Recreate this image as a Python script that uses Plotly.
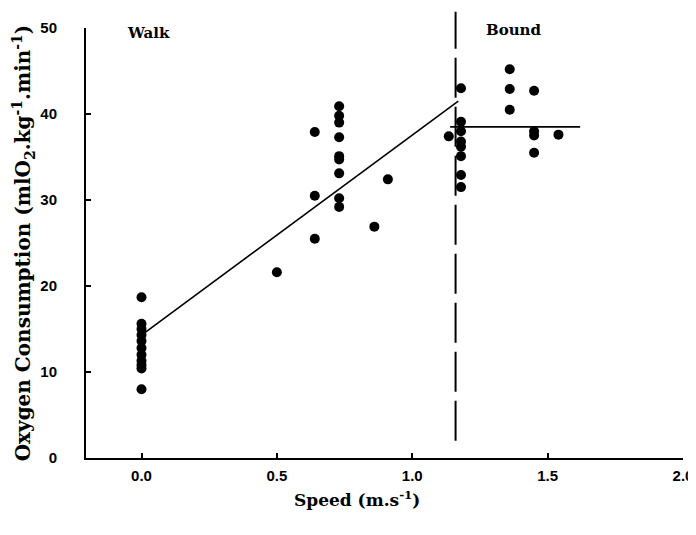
import plotly.graph_objects as go

# Walk: speed (m/s) and oxygen consumption (ml O2 / kg / min)
walk_speed = [0.0, 0.0, 0.0, 0.0, 0.0, 0.0, 0.0, 0.0, 0.0, 0.0, 0.0,
              0.50, 0.64, 0.64, 0.64,
              0.73, 0.73, 0.73, 0.73, 0.73, 0.73, 0.73, 0.73, 0.73,
              0.86, 0.91]
walk_vo2 = [18.7, 15.6, 15.0, 14.3, 13.6, 12.8, 12.0, 11.3, 10.8, 10.4, 8.0,
            21.6, 25.5, 30.5, 37.9,
            40.9, 39.8, 39.0, 37.3, 35.1, 34.7, 33.1, 30.2, 29.2,
            26.9, 32.4]

# Bound
bound_speed = [1.135, 1.18, 1.18, 1.18, 1.18, 1.18, 1.18, 1.18, 1.18,
               1.36, 1.36, 1.36, 1.45, 1.45, 1.45, 1.45, 1.54]
bound_vo2 = [37.4, 43.0, 39.1, 38.0, 36.8, 36.2, 35.1, 32.9, 31.5,
             45.2, 42.9, 40.5, 42.7, 38.0, 37.5, 35.5, 37.6]

# fitted lines
walk_fit_x = [0.0, 1.17]
walk_fit_y = [14.3, 41.5]
bound_mean_x = [1.14, 1.62]
bound_mean_y = [38.5, 38.5]

transition_speed = 1.16

x_ticks = [0.0, 0.5, 1.0, 1.5, 2.0]
x_ticktext = ["0.0", "0.5", "1.0", "1.5", "2.0"]
y_ticks = [0, 10, 20, 30, 40, 50]

serif = "DejaVu Serif, Liberation Serif, serif"
sans = "Liberation Sans, Arial, sans-serif"

fig = go.Figure()

fig.add_trace(go.Scatter(x=walk_fit_x, y=walk_fit_y, mode="lines",
                         line=dict(color="black", width=1.6), showlegend=False,
                         hoverinfo="skip"))
fig.add_trace(go.Scatter(x=bound_mean_x, y=bound_mean_y, mode="lines",
                         line=dict(color="black", width=1.6), showlegend=False,
                         hoverinfo="skip"))
fig.add_trace(go.Scatter(x=walk_speed, y=walk_vo2, mode="markers", name="Walk",
                         marker=dict(color="black", size=10), showlegend=False,
                         cliponaxis=False))
fig.add_trace(go.Scatter(x=bound_speed, y=bound_vo2, mode="markers", name="Bound",
                         marker=dict(color="black", size=10), showlegend=False,
                         cliponaxis=False))

# walk/bound transition (dashed, reaches above the top of the axis)
fig.add_shape(type="line", xref="x", yref="paper",
              x0=transition_speed, x1=transition_speed, y0=0.04, y1=1.038,
              line=dict(color="black", width=2, dash="40px,9px"))

fig.add_annotation(x=0.025, y=49.4, xref="x", yref="y", text="<b>Walk</b>",
                   showarrow=False, font=dict(family=serif, size=15, color="black"))
fig.add_annotation(x=1.375, y=49.8, xref="x", yref="y", text="<b>Bound</b>",
                   showarrow=False, font=dict(family=serif, size=15, color="black"))

# x-axis title sits a little left of the plot centre in the original
fig.add_annotation(x=0.454, y=-0.095, xref="paper", yref="paper", yanchor="middle",
                   text="<b>Speed (m.s<sup>-1</sup>)</b>", showarrow=False,
                   font=dict(family=serif, size=17, color="black"))

# page body adds an 8px offset, so margins are trimmed by that much
fig.update_layout(
    width=696, height=535,
    margin=dict(l=78, r=21, t=20, b=85),
    plot_bgcolor="white", paper_bgcolor="white",
    showlegend=False,
)

fig.update_xaxes(
    range=[-0.205, 2.0], tickvals=x_ticks, ticktext=x_ticktext,
    showline=True, linecolor="black", linewidth=2, mirror=False,
    ticks="inside", ticklen=5, tickwidth=1.5, tickcolor="black",
    showgrid=False, zeroline=False, ticklabelstandoff=3,
    tickfont=dict(family=sans, size=15, color="black", weight="bold"),
)
fig.update_yaxes(
    range=[0, 50], tickvals=y_ticks,
    showline=True, linecolor="black", linewidth=2,
    ticks="inside", ticklen=5, tickwidth=1.5, tickcolor="black",
    showgrid=False, zeroline=False, ticklabelstandoff=24,
    tickfont=dict(family=sans, size=15, color="black", weight="bold"),
    title=dict(text="<b>Oxygen Consumption (mlO<sub>2</sub>.kg<sup>-1</sup>.min<sup>-1</sup>)</b>",
               standoff=4, font=dict(family=serif, size=20, color="black")),
)

fig.write_html("out.html")
